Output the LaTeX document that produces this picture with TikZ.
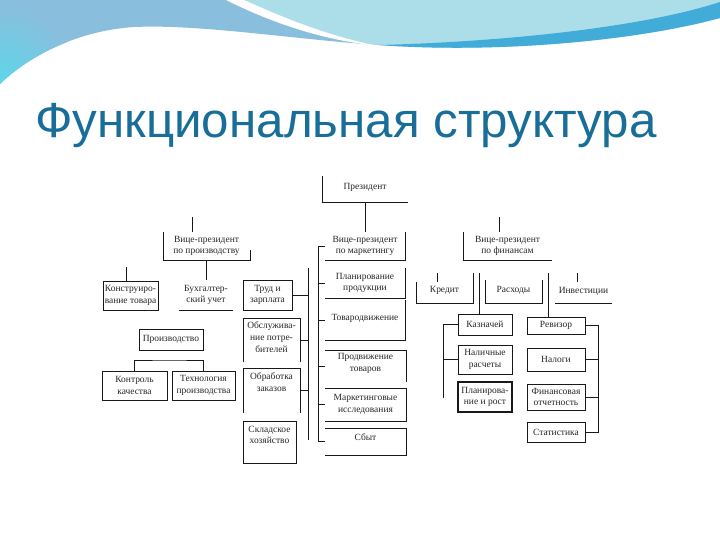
\documentclass[tikz,border=0pt]{standalone}
\usepackage{fontspec}
\newfontfamily\ttlfont{Liberation Sans}
\newfontfamily\dgfont{Liberation Serif}
\usetikzlibrary{calc}
\definecolor{ttlblue}{RGB}{24,110,152}
\definecolor{wblue}{RGB}{138,190,221}
\definecolor{wcyan}{RGB}{92,214,234}
\definecolor{wlight}{RGB}{172,222,234}
\definecolor{wband}{RGB}{66,172,216}
\newcommand\DBox[7][0]{%
  \pgfmathsetmacro\bxw{#5-#3}\pgfmathsetmacro\bxh{#6-#4}%
  \node[box, minimum width=\bxw bp, minimum height=\bxh bp] (#2) at ({(#3+#5)/2},{(#4+#6)/2}) {};%
  \node[txt] (#2-t) at ([yshift=#1bp]#2.center) {#7};}
\begin{document}
\begin{tikzpicture}[x=1bp,y=-1bp,
  box/.style={inner sep=0pt,outer sep=0pt},
  txt/.style={inner sep=0pt,align=center,text=black!85,font=\dgfont\fontsize{9.5}{11.8}\selectfont},
  ln/.style={line width=0.8bp,draw=black!90}]
\useasboundingbox (0,0) rectangle (720,540);
\fill[white] (0,0) rectangle (720,540);
% background waves
\fill[wlight] (232,0) -- (720,0) -- (720,18) .. controls (640,40) and (500,54) .. (378,45) .. controls (328,37) and (278,20) .. (232,0) -- cycle;
\fill[wband] (378,45) .. controls (500,42) and (640,28) .. (720,2) -- (720,18) .. controls (640,40) and (500,54) .. (378,45) -- cycle;
\begin{scope}
\clip (0,0) -- (232,0) .. controls (278,20) and (328,37) .. (378,45) .. controls (300,40) and (200,24) .. (135,27) .. controls (80,30) and (30,55) .. (0,84) -- cycle;
\fill[wblue] (0,0) rectangle (400,90);
\shade[inner color=wcyan, outer color=wblue] (0,84) circle (80);
\end{scope}
\fill[white] (226,0) .. controls (274,24) and (326,41) .. (380,46) .. controls (330,37) and (284,18) .. (244,0) -- cycle;
% title
\node[anchor=base west,inner sep=0pt,text=ttlblue,font=\ttlfont\fontsize{49.5}{50}\selectfont] (title) at (35,138) {Функциональная структура};
% boxes
\DBox[2]{pres}{322}{176}{408}{202}{Президент}
\DBox{vpprod}{163}{232}{250}{260}{Вице-президент\\по производству}
\DBox{vpmark}{325}{232}{405}{260}{Вице-президент\\по маркетингу}
\DBox{vpfin}{463}{232}{552}{260}{Вице-президент\\по финансам}
\DBox{konstr}{103}{281}{158}{310}{Конструиро-\\вание товара}
\DBox{buh}{179}{280}{233}{310}{Бухгалтер-\\ский учет}
\DBox{trud}{243}{280}{292}{310}{Труд и\\зарплата}
\DBox{proizv}{139}{329}{203}{350}{Производство}
\DBox{kontrol}{102}{371}{167}{400}{Контроль\\качества}
\DBox{tehn}{172}{371}{235}{400}{Технология\\производства}
\DBox[3]{obsl}{243}{318}{300}{362}{Обслужива-\\ние потре-\\бителей}
\DBox[8]{obrab}{243}{368}{300}{413}{Обработка\\заказов}
\DBox[7]{sklad}{243}{421}{296}{463}{Складское\\хозяйство}
\DBox{plan}{325}{268}{405}{298}{Планирование\\продукции}
\DBox[2]{tovar}{325}{300}{405}{340}{Товародвижение}
\DBox[2.5]{prodv}{325}{350}{406}{382}{Продвижение\\товаров}
\DBox{markis}{325}{388}{406}{421}{Маркетинговые\\исследования}
\DBox[4]{sbyt}{325}{428}{406}{455}{Сбыт}
\DBox[2]{kredit}{416}{282}{473}{303}{Кредит}
\DBox[1]{rashod}{485}{280}{542}{303}{Расходы}
\DBox[1]{invest}{555}{282}{612}{303}{Инвестиции}
\DBox{kazn}{458}{314}{512}{335}{Казначей}
\DBox{reviz}{527}{317}{585}{334}{Ревизор}
\DBox{nalich}{458}{345}{512}{374}{Наличные\\расчеты}
\DBox{nalogi}{527}{348}{585}{371}{Налоги}
\DBox{planrost}{458}{382}{512}{412}{Планирова-\\ние и рост}
\DBox{finotch}{527}{384}{585}{410}{Финансовая\\отчетность}
\DBox{stat}{527}{422}{585}{442}{Статистика}
% box edges (as printed)
\draw[ln] (pres.north west) |- (pres.south east);
\draw[ln] (vpprod.north west) |- (vpprod.south east) -- ([yshift=10bp]vpprod.south east);
\draw[ln] (vpmark.north east) |- (vpmark.south west);
\draw[ln] (vpfin.north west) |- (vpfin.south east);
\foreach \n in {konstr,trud,proizv,kontrol,tehn,sklad,kazn,reviz,nalich,nalogi,finotch,stat}
  \draw[ln] (\n.north west) rectangle (\n.south east);
\draw[ln,line width=1.2bp] (planrost.north west) rectangle (planrost.south east);
\draw[ln] (buh.south west) -- (buh.south east);
\draw[ln] (obsl.south west) |- (obsl.north east) -- (obsl.south east);
\draw[ln] (obrab.south west) |- (obrab.north east) -- (obrab.south east);
\draw[ln] (plan.north east) |- (plan.south west);
\draw[ln] (tovar.north east) |- (tovar.south west);
\draw[ln] (prodv.north west) -| (prodv.south east);
\draw[ln] (markis.north west) -| (markis.south east) -- (markis.south west);
\draw[ln] (sbyt.north west) -| (sbyt.south east) -- (sbyt.south west);
\draw[ln] (kredit.north west) |- (kredit.south east) -- ([yshift=9bp]kredit.north east);
\draw[ln] (rashod.north west) |- (rashod.south east) -- (rashod.north east);
\draw[ln] (invest.south west) -- (invest.south east);
% connectors
\draw[ln] (pres.south) -- (vpmark.north);
\coordinate (vpprodin) at (192,217);
\draw[ln] (vpprodin) -- (vpprodin |- vpprod.north);
\coordinate (vpfinin) at (499,217);
\draw[ln] (vpfinin) -- (vpfinin |- vpfin.north);
\draw[ln] (vpprod.south) -- (vpprod.south |- buh.north);
\coordinate (konstrin) at (126,267);
\draw[ln] (konstrin) -- (konstrin |- konstr.north);
\coordinate (pbus1) at (308,268);
\coordinate (pbus2) at (308,440);
\draw[ln] (pbus1) -- (pbus2);
\foreach \n in {trud,obsl,obrab} \draw[ln] (\n.east) -- (\n.east -| pbus1);
\coordinate (pjoin) at (170,360);
\draw[ln] (kontrol.north) |- (pjoin) -| (tehn.north);
\coordinate (mbus1) at (318,246);
\draw[ln] (vpmark.west) -| (sbyt.west -| mbus1) -- (sbyt.west);
\foreach \n in {plan,tovar,prodv,markis} \draw[ln] (\n.west -| mbus1) -- (\n.west);
\coordinate (kredin) at (437,273);
\draw[ln] (kredin) -- (kredin |- kredit.north);
\coordinate (investin) at (577,273);
\draw[ln] (investin) -- (investin |- invest.north);
\coordinate (kaznin) at (479,273);
\draw[ln] (kaznin) -- (kaznin |- kazn.north);
\coordinate (revizin) at (548,273);
\draw[ln] (revizin) -- (revizin |- reviz.north);
\coordinate (fbusl) at (443,398);
\draw[ln] (kazn.west) -| (fbusl);
\draw[ln] (nalich.west -| fbusl) -- (nalich.west);
\coordinate (fbusr) at (598,325);
\draw[ln] (reviz.east) -- (reviz.east -| fbusr) -- (stat.east -| fbusr) -- (stat.east);
\foreach \n in {nalogi,finotch} \draw[ln] (\n.east) -- (\n.east -| fbusr);
\end{tikzpicture}
\end{document}
